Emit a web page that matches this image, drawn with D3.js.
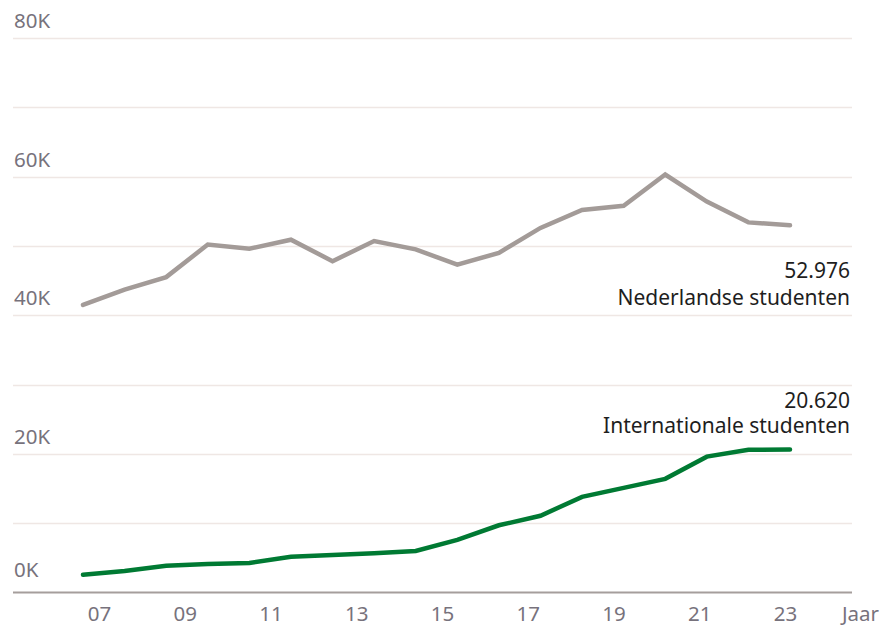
<!DOCTYPE html>
<meta charset="utf-8">
<style>
  body { margin: 0; background: #fff; }
  text { font-family: "Noto Sans", sans-serif; }
  .tick-label { fill: #77727c; font-size: 20.5px; }
  .end-label { fill: #1e1e1e; font-size: 21px; }
</style>
<body>
<svg width="892" height="625"></svg>

<script src="https://cdn.jsdelivr.net/npm/d3@7"></script>
<script>

// data
var years = d3.range(2006, 2024);
var nederlands = [41500, 43700, 45500, 50200, 49600, 50900, 47800, 50700, 49500,
                  47300, 49000, 52600, 55200, 55800, 60300, 56400, 53400, 52976];
var internationaal = [2550, 3100, 3850, 4100, 4250, 5150, 5400, 5650, 6000,
                      7600, 9700, 11070, 13800, 15100, 16400, 19600, 20600, 20620];
var yTicks = [0, 10000, 20000, 30000, 40000, 50000, 60000, 70000, 80000];
var yLabelTicks = [0, 20000, 40000, 60000, 80000];
var xTicks = [2007, 2009, 2011, 2013, 2015, 2017, 2019, 2021, 2023];

var svg = d3.select("svg");

var gridLeft = 13, gridRight = 852;

// Scales
var y = d3.scaleLinear().domain([0, 80000]).range([592.5, 38]);
var x = d3.scaleLinear().domain([2006, 2023]).range([83, 790]);
var xAxisScale = d3.scaleLinear().domain([2007, 2023]).range([99.5, 785.5]);

// Gridlines
svg.append("g")
    .selectAll("line")
    .data(yTicks.filter(function(d) { return d > 0; }))
    .join("line")
    .attr("x1", gridLeft)
    .attr("x2", gridRight)
    .attr("y1", function(d) { return Math.round(y(d)) + 0.5; })
    .attr("y2", function(d) { return Math.round(y(d)) + 0.5; })
    .attr("stroke", "#efe7e4")
    .attr("stroke-width", 1.5);

// Y labels
svg.append("g")
    .selectAll("text")
    .data(yLabelTicks)
    .join("text")
    .attr("class", "tick-label")
    .attr("x", 14)
    .attr("y", function(d) { return y(d) - (d === 0 ? 16 : 10); })
    .text(function(d) { return (d / 1000) + "K"; });

// X axis line
svg.append("line")
    .attr("x1", gridLeft)
    .attr("x2", gridRight)
    .attr("y1", y(0))
    .attr("y2", y(0))
    .attr("stroke", "#a59e9c")
    .attr("stroke-width", 2);

// X labels
svg.append("g")
    .selectAll("text")
    .data(xTicks)
    .join("text")
    .attr("class", "tick-label")
    .attr("x", function(d) { return xAxisScale(d); })
    .attr("y", 621)
    .attr("text-anchor", "middle")
    .text(function(d) { return d3.format("02")(d % 100); });

svg.append("text")
    .attr("class", "tick-label")
    .attr("x", 842)
    .attr("y", 621)
    .text("Jaar");

// Lines
var line = d3.line()
    .x(function(d, i) { return x(years[i]); })
    .y(function(d) { return y(d); });

svg.append("path")
    .datum(nederlands)
    .attr("fill", "none")
    .attr("stroke", "#a39b98")
    .attr("stroke-width", 4.5)
    .attr("stroke-linecap", "round")
    .attr("d", line);

svg.append("path")
    .datum(internationaal)
    .attr("fill", "none")
    .attr("stroke", "#007a33")
    .attr("stroke-width", 4.5)
    .attr("stroke-linecap", "round")
    .attr("d", line);

// End labels
var fmt = function(v) { return d3.format(",")(v).replace(",", "."); };

function endLabel(value, name, yValue, yName) {
    var g = svg.append("g").attr("text-anchor", "end");
    g.append("text").attr("class", "end-label")
        .attr("x", 850).attr("y", yValue).text(fmt(value));
    g.append("text").attr("class", "end-label")
        .attr("x", 850).attr("y", yName).text(name);
}

endLabel(nederlands[nederlands.length - 1], "Nederlandse studenten", 278, 305);
endLabel(internationaal[internationaal.length - 1], "Internationale studenten", 408, 433);

</script>
</body>
